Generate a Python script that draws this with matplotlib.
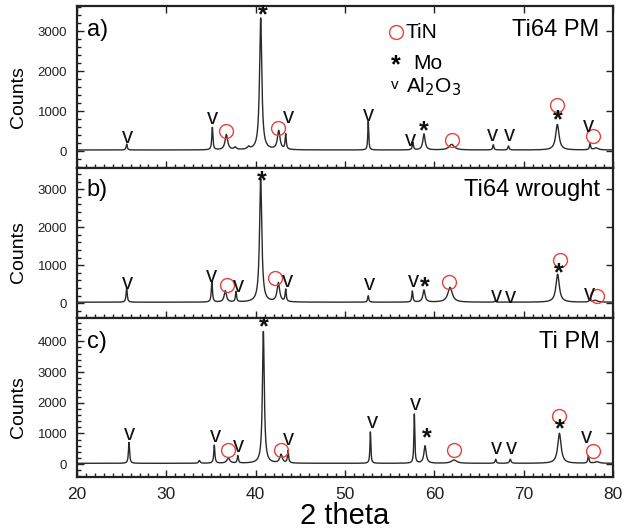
import numpy as np
import matplotlib
matplotlib.use("Agg")
import matplotlib.pyplot as plt
from matplotlib.ticker import MultipleLocator

plt.rcParams['font.family'] = ['Liberation Sans', 'DejaVu Sans']

# Peak tables: position (deg 2theta), height (counts), FWHM (deg)
a_pos = [25.56, 35.15, 36.72, 37.7, 39.2, 40.56, 42.58, 43.36, 52.6, 57.6, 58.84, 61.94, 66.6, 68.3, 73.77, 77.43, 78.1]
a_hgt = [150, 560, 380, 60, 60, 3300, 470, 380, 720, 190, 400, 140, 130, 100, 640, 150, 50]
a_fwhm = [0.15, 0.15, 0.35, 0.3, 0.3, 0.3, 0.35, 0.15, 0.12, 0.15, 0.3, 0.7, 0.15, 0.15, 0.45, 0.15, 0.6]

b_pos = [25.56, 35.1, 36.6, 37.8, 40.56, 42.54, 43.36, 52.6, 57.54, 58.84, 61.76, 66.8, 68.5, 73.8, 77.4, 78.0]
b_hgt = [390, 560, 300, 270, 3250, 500, 320, 170, 290, 320, 390, 30, 20, 740, 50, 50]
b_fwhm = [0.15, 0.15, 0.3, 0.15, 0.3, 0.35, 0.15, 0.15, 0.15, 0.3, 0.6, 0.15, 0.15, 0.45, 0.2, 0.6]

c_pos = [25.82, 33.7, 35.37, 36.94, 38.0, 40.86, 42.84, 43.62, 52.84, 57.76, 58.96, 62.2, 66.87, 68.5, 74.0, 77.24, 78.2]
c_hgt = [680, 90, 590, 160, 240, 4300, 280, 400, 1030, 1610, 570, 110, 130, 130, 980, 240, 50]
c_fwhm = [0.15, 0.2, 0.15, 0.4, 0.15, 0.25, 0.35, 0.15, 0.12, 0.12, 0.3, 0.7, 0.15, 0.2, 0.45, 0.15, 0.6]

background = 25

# Phase markers: (2theta, counts) where each symbol is placed
a_tin = ([36.63, 42.54, 62.02, 73.7, 77.8], [500, 567, 275, 1150, 375])
a_mo = ([40.78, 58.77, 73.81], [3400, 483, 758])
a_al = ([25.67, 35.15, 43.7, 52.61, 57.28, 66.53, 68.4, 77.28], [350, 817, 842, 900, 275, 400, 400, 608])

b_tin = ([36.83, 42.17, 61.68, 74.07, 78.18], [482, 658, 570, 1140, 193])
b_mo = ([40.67, 58.96, 73.9], [3200, 420, 790])
b_al = ([25.6, 35.1, 38.1, 43.55, 52.73, 57.65, 66.9, 68.47, 77.35], [526, 700, 438, 570, 482, 570, 175, 158, 220])

c_tin = ([36.94, 42.8, 62.24, 73.96, 77.72], [448, 448, 448, 1563, 415])
c_mo = ([40.93, 59.14, 74.0], [4460, 852, 1125])
c_al = ([25.93, 35.45, 38.1, 43.7, 53.06, 57.84, 66.98, 68.58, 76.98], [962, 907, 580, 798, 1344, 1945, 492, 492, 852])

panels = [
    dict(pos=a_pos, hgt=a_hgt, fwhm=a_fwhm, tin=a_tin, mo=a_mo, al=a_al,
         ylim=(-425, 3625), yticks=[0, 1000, 2000, 3000], tag="a)", name="Ti64 PM",
         rect=[0.1234, 0.6842, 0.859, 0.3045]),
    dict(pos=b_pos, hgt=b_hgt, fwhm=b_fwhm, tin=b_tin, mo=b_mo, al=b_al,
         ylim=(-390, 3560), yticks=[0, 1000, 2000, 3000], tag="b)", name="Ti64 wrought",
         rect=[0.1234, 0.4023, 0.859, 0.2820]),
    dict(pos=c_pos, hgt=c_hgt, fwhm=c_fwhm, tin=c_tin, mo=c_mo, al=c_al,
         ylim=(-420, 4760), yticks=[0, 1000, 2000, 3000, 4000], tag="c)", name="Ti PM",
         rect=[0.1234, 0.1034, 0.859, 0.2989]),
]

two_theta = np.linspace(20, 80, 4001)


def pattern(pos, hgt, fwhm):
    y = np.full_like(two_theta, background, dtype=float)
    for p, h, w in zip(pos, hgt, fwhm):
        y += h / (1.0 + ((two_theta - p) / (w / 2.0)) ** 2)
    return y


fig = plt.figure(figsize=(6.24, 5.32), dpi=100)

for i, p in enumerate(panels):
    ax = fig.add_axes(p["rect"])
    ax.plot(two_theta, pattern(p["pos"], p["hgt"], p["fwhm"]), color="#2a2a2a", lw=1.0)

    ax.plot(p["tin"][0], p["tin"][1], ls="none", marker="o", ms=10, mfc="none",
            mec="#e8413c", mew=1.0)
    for x, y in zip(*p["mo"]):
        ax.text(x, y, "*", ha="center", va="center", fontsize=18, fontweight="bold",
                color="#111111")
    for x, y in zip(*p["al"]):
        ax.text(x, y, "v", ha="center", va="center", fontsize=16, color="#111111")

    ax.set_xlim(20, 80)
    ax.set_ylim(*p["ylim"])
    ax.set_yticks(p["yticks"])
    ax.xaxis.set_major_locator(MultipleLocator(10))
    ax.xaxis.set_minor_locator(MultipleLocator(1))
    ax.yaxis.set_minor_locator(MultipleLocator(200))
    ax.tick_params(axis="both", which="both", direction="in", width=1.0, colors="#222222")
    ax.tick_params(axis="both", which="major", length=5)
    ax.tick_params(axis="both", which="minor", length=3)
    ax.tick_params(axis="y", labelsize=9.5, pad=7, right=True, left=True)
    ax.tick_params(axis="x", top=(i == 0), bottom=True, labelbottom=(i == 2),
                   labelsize=12.5, pad=7)
    for s in ax.spines.values():
        s.set_linewidth(1.6)
        s.set_color("#222222")

    ax.set_ylabel("Counts", fontsize=14)
    ax.yaxis.set_label_coords(-0.094, 0.437)

    ax.text(0.018, 0.85, p["tag"], transform=ax.transAxes, fontsize=17,
            ha="left", va="center")
    ax.text(0.975, 0.85, p["name"], transform=ax.transAxes, fontsize=17,
            ha="right", va="center")

    if i == 0:
        ax.plot([55.7], [2975], marker="o", ms=10, mfc="none", mec="#e8413c", mew=1.0)
        ax.text(56.8, 2975, "TiN", fontsize=15, ha="left", va="center")
        ax.text(55.7, 2150, "*", fontsize=18, fontweight="bold", ha="center", va="center")
        ax.text(57.6, 2200, "Mo", fontsize=15, ha="left", va="center")
        ax.text(55.6, 1650, "v", fontsize=11, ha="center", va="center")
        ax.text(56.8, 1600, r"Al$_2$O$_3$", fontsize=15, ha="left", va="center")

    if i == 2:
        ax.set_xlabel("2 theta", fontsize=21, labelpad=0)

fig.savefig("out.png", dpi=100)
